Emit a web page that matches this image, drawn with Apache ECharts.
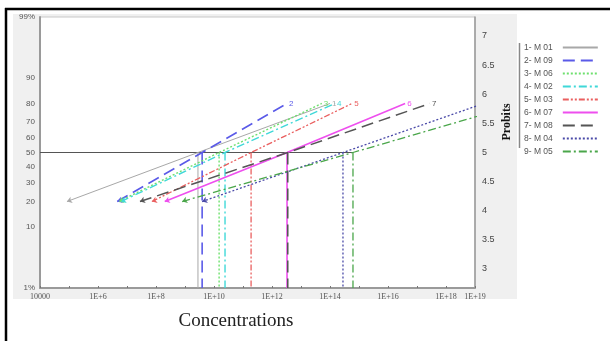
<!DOCTYPE html>
<html><head><meta charset="utf-8">
<script src="https://cdn.jsdelivr.net/npm/echarts@6/dist/echarts.min.js"></script>
<style>html,body{margin:0;padding:0;background:#fff}#c{width:610px;height:341px}</style>
</head><body><div id="c"></div>
<script>
// ---- data ----
const seriesNames   = ['1- M 01','2- M 09','3- M 06','4- M 02','5- M 03','6- M 07','7- M 08','8- M 04','9- M 05'];
const seriesNumbers = ['1','2','3','4','5','6','7','8','9'];
const startConc = [8.5e4, 4.6e6, 5.2e6, 6.2e6, 7.2e7, 2.0e8, 2.8e7, 3.9e9, 8.0e8];
const startPct  = [20, 20, 20, 20, 20, 20, 20, 20, 20];
const lc50Conc  = [2.8e9, 3.9e9, 1.5e10, 2.4e10, 1.9e11, 3.3e12, 3.5e12, 2.8e14, 6.2e14];
const lc50Pct   = [50, 50, 50, 50, 50, 50, 50, 50, 50];
const endConc   = [1.0e14, 3.3e12, 5.2e13, 1.5e14, 5.8e14, 3.9e16, 2.8e17, 2.0e19, 4.0e20];
const endPct    = [80, 80, 80, 80, 80, 80, 80, 80, 80];

const leftTickPct    = [1, 10, 20, 30, 40, 50, 60, 70, 80, 90, 99];
const leftTickLabels = ['1%','10','20','30','40','50','60','70','80','90','99%'];
const rightTickProbits = [3, 3.5, 4, 4.5, 5, 5.5, 6, 6.5, 7];
const xTickExponents = [4, 6, 8, 10, 12, 14, 16, 18, 19];
const xTickLabels    = ['10000','1E+6','1E+8','1E+10','1E+12','1E+14','1E+16','1E+18','1E+19'];
const xMinExp = 4, xMaxExp = 19;
const yMinPct = 1, yMaxPct = 99;

// ---- styles ----
const styles = [
  {color:'#a8a8a8', type:'solid', width:1},
  {color:'#5a5ae8', type:[12,6], width:1.6},
  {color:'#6ee06e', type:[2,2], width:1.4},
  {color:'#3fd8d8', type:[8,3,2,3], width:1.4},
  {color:'#ea5f5f', type:[6,2,2,2,2,2], width:1.3},
  {color:'#ee4fee', type:'solid', width:1.6},
  {color:'#555555', type:[12,6], width:1.5},
  {color:'#4a4aa8', type:[2,2], width:1.3},
  {color:'#4aa64a', type:[8,3,2,3], width:1.3}
];

// probit transform (inverse normal CDF + 5), Acklam's approximation
function probit(pct){
  const p = pct/100;
  const a=[-3.969683028665376e+01,2.209460984245205e+02,-2.759285104469687e+02,1.383577518672690e+02,-3.066479806614716e+01,2.506628277459239e+00];
  const b=[-5.447609879822406e+01,1.615858368580409e+02,-1.556989798598866e+02,6.680131188771972e+01,-1.328068155288572e+01];
  const c=[-7.784894002430293e-03,-3.223964580411365e-01,-2.400758277161838e+00,-2.549732539343734e+00,4.374664141464968e+00,2.938163982698783e+00];
  const d=[7.784695709041462e-03,3.224671290700398e-01,2.445134137142996e+00,3.754408661907416e+00];
  const pl=0.02425, ph=1-pl; let q,r,x;
  if(p<pl){q=Math.sqrt(-2*Math.log(p)); x=(((((c[0]*q+c[1])*q+c[2])*q+c[3])*q+c[4])*q+c[5])/((((d[0]*q+d[1])*q+d[2])*q+d[3])*q+1);}
  else if(p<=ph){q=p-0.5;r=q*q;x=(((((a[0]*r+a[1])*r+a[2])*r+a[3])*r+a[4])*r+a[5])*q/(((((b[0]*r+b[1])*r+b[2])*r+b[3])*r+b[4])*r+1);}
  else {q=Math.sqrt(-2*Math.log(1-p)); x=-(((((c[0]*q+c[1])*q+c[2])*q+c[3])*q+c[4])*q+c[5])/((((d[0]*q+d[1])*q+d[2])*q+d[3])*q+1);}
  return x+5;
}
const lx = v => Math.log10(v);
const yMin = probit(yMinPct), yMax = probit(yMaxPct);
const leftTickVals = leftTickPct.map(probit);

const series = [];
// horizontal 50% reference line
series.push({type:'line', symbol:'none', silent:true, z:3,
  lineStyle:{color:'#555', width:1.2, type:'solid'},
  data:[[xMinExp, probit(50)], [Math.max(...lc50Conc.map(lx)), probit(50)]]});

seriesNames.forEach((name,i)=>{
  const st = styles[i];
  const endX = lx(endConc[i]);
  series.push({
    name, type:'line', symbol:'none', clip:true, z:4,
    lineStyle:st, itemStyle:{color:st.color},
    data:[
      {value:[lx(startConc[i]), probit(startPct[i])], symbol:'arrow', symbolSize:5, symbolRotate:110},
      [lx(lc50Conc[i]), probit(lc50Pct[i])],
      {value:[endX, probit(endPct[i])], symbol:'circle', symbolSize:0.01,
        label:{show:endX<=xMaxExp, formatter:seriesNumbers[i], position:'right', distance:2,
          color:st.color, fontSize:8, fontFamily:'Liberation Sans'}}
    ]
  });
  series.push({
    type:'line', symbol:'none', silent:true, z:4,
    lineStyle:st,
    data:[[lx(lc50Conc[i]), probit(lc50Pct[i])], [lx(lc50Conc[i]), yMin]]
  });
});

const chart = echarts.init(document.getElementById('c'), null, {renderer:'canvas'});
chart.setOption({
  animation:false,
  backgroundColor:'#fff',
  grid:{left:40, top:17, width:435, height:271, show:true, backgroundColor:'#fff', borderColor:'#c8c8c8', borderWidth:1},
  xAxis:{type:'value', min:xMinExp, max:xMaxExp, interval:1,
    axisLine:{show:true, onZero:false, lineStyle:{color:'#9a9a9a', width:2}},
    axisTick:{show:true, inside:true, length:2, lineStyle:{color:'#777'}},
    splitLine:{show:false},
    axisLabel:{margin:5, fontSize:8, color:'#555', fontFamily:'Liberation Serif',
      formatter:v=>{const k=xTickExponents.indexOf(Math.round(v)); return k>=0?xTickLabels[k]:'';}}
  },
  yAxis:[
    {type:'value', min:yMin, max:yMax, position:'left',
      axisLine:{show:true, lineStyle:{color:'#9a9a9a', width:2}},
      axisTick:{show:false}, splitLine:{show:false},
      axisLabel:{customValues:leftTickVals, margin:5, fontSize:8, color:'#555', fontFamily:'Liberation Sans',
        formatter:v=>{for(let k=0;k<leftTickVals.length;k++){if(Math.abs(leftTickVals[k]-v)<1e-6)return leftTickLabels[k];} return '';}}
    },
    {type:'value', min:yMin, max:yMax, position:'right',
      axisLine:{show:true, lineStyle:{color:'#9a9a9a', width:1.5}},
      axisTick:{show:false}, splitLine:{show:false},
      axisLabel:{customValues:rightTickProbits, margin:7, fontSize:9, color:'#444', fontFamily:'Liberation Sans',
        formatter:v=>String(v)}
    }
  ],
  legend:{data:seriesNames, orient:'vertical', left:524, top:43, padding:0, itemWidth:35, itemHeight:8, itemGap:4,
    align:'right', selectedMode:false,
    itemStyle:{opacity:0, borderWidth:0},
    textStyle:{fontSize:8.5, lineHeight:8, color:'#555', padding:[0,5,0,0], fontFamily:'Liberation Sans'}},
  graphic:[
    {type:'rect', z:-10, shape:{x:13, y:14, width:504, height:285}, style:{fill:'#f0f0f0'}},
    {type:'line', z:10, shape:{x1:5, y1:9, x2:610, y2:9}, style:{stroke:'#000', lineWidth:2.5}},
    {type:'line', z:10, shape:{x1:6, y1:8, x2:6, y2:341}, style:{stroke:'#000', lineWidth:2.5}},
    {type:'line', z:10, shape:{x1:519.5, y1:43, x2:519.5, y2:148}, style:{stroke:'#888', lineWidth:1.5}},
    {type:'text', z:10, x:507, y:122, rotation:Math.PI/2,
      style:{text:'Probits', fill:'#111', font:'bold 12px "Liberation Serif"', align:'center', verticalAlign:'middle'}},
    {type:'text', z:10, x:236, y:321,
      style:{text:'Concentrations', fill:'#222', font:'19px "Liberation Serif"', align:'center', verticalAlign:'middle'}}
  ],
  series
});
</script></body></html>
